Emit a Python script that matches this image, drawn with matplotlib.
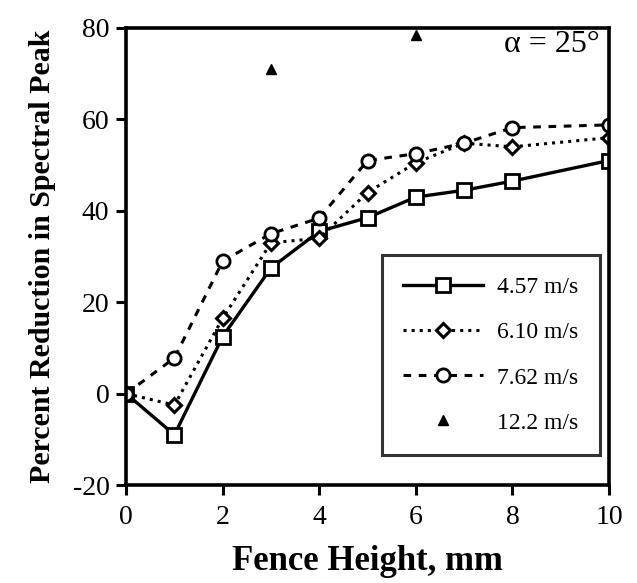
import matplotlib.pyplot as plt
import numpy as np

plt.rcParams['font.family'] = ['Liberation Serif', 'DejaVu Serif']
plt.rcParams['axes.unicode_minus'] = False

# fence height (mm)
height = [0, 1, 2, 3, 4, 5, 6, 7, 8, 10]
v457 = [0, -9, 12.5, 27.5, 35.5, 38.5, 43, 44.5, 46.5, 51]
v610 = [0, -2.5, 16.5, 33, 34, 44, 50.5, 54.8, 54, 56]
v762 = [0, 7.8, 29, 35, 38.4, 51, 52.5, 54.8, 58.2, 58.8]
h122 = [3, 6]
v122 = [71, 78.5]

fig = plt.figure(figsize=(6.37, 5.83), dpi=100)
ax = fig.add_axes([0.198, 0.168, 0.758, 0.784])

ax.plot(height, v457, '-', color='black', lw=2.4, marker='s', ms=10,
        mfc='white', mec='black', mew=2, label='4.57 m/s')
ax.plot(height, v610, ':', color='black', lw=2.2, marker='D', ms=7,
        mfc='white', mec='black', mew=2.2, label='6.10 m/s')
ax.plot(height, v762, '--', color='black', lw=2.2, marker='o', ms=9.5,
        mfc='white', mec='black', mew=2, label='7.62 m/s', dashes=(2.5, 2.5))
ax.plot(h122, v122, ls='none', marker='^', ms=7, color='black',
        label='12.2 m/s')

ax.set_xlim(0, 10)
ax.set_ylim(-20, 80)
ax.set_xticks([0, 2, 4, 6, 8, 10])
ax.set_yticks([-20, 0, 20, 40, 60, 80])
for s in ax.spines.values():
    s.set_linewidth(2.6)
ax.tick_params(direction='out', length=7, width=2.2, labelsize=20)
ax.tick_params(axis='x', pad=7)
ax.tick_params(axis='y', pad=5)

ax.set_xlabel('Fence Height, mm', fontsize=25, fontweight='bold', labelpad=11)
ax.set_ylabel('Percent Reduction in Spectral Peak', fontsize=21.5,
              fontweight='bold', labelpad=12)

ax.text(9.8, 76.3, 'α = 25°', fontsize=23, ha='right', va='center')

leg = ax.legend(loc='lower right', bbox_to_anchor=(0.981, 0.066), fontsize=17,
                frameon=True, fancybox=False, edgecolor='black',
                handlelength=3.4, borderpad=0.9, labelspacing=1.0,
                handletextpad=0.6, borderaxespad=0)
leg.get_frame().set_linewidth(2.2)

fig.savefig('out.png', dpi=100)
